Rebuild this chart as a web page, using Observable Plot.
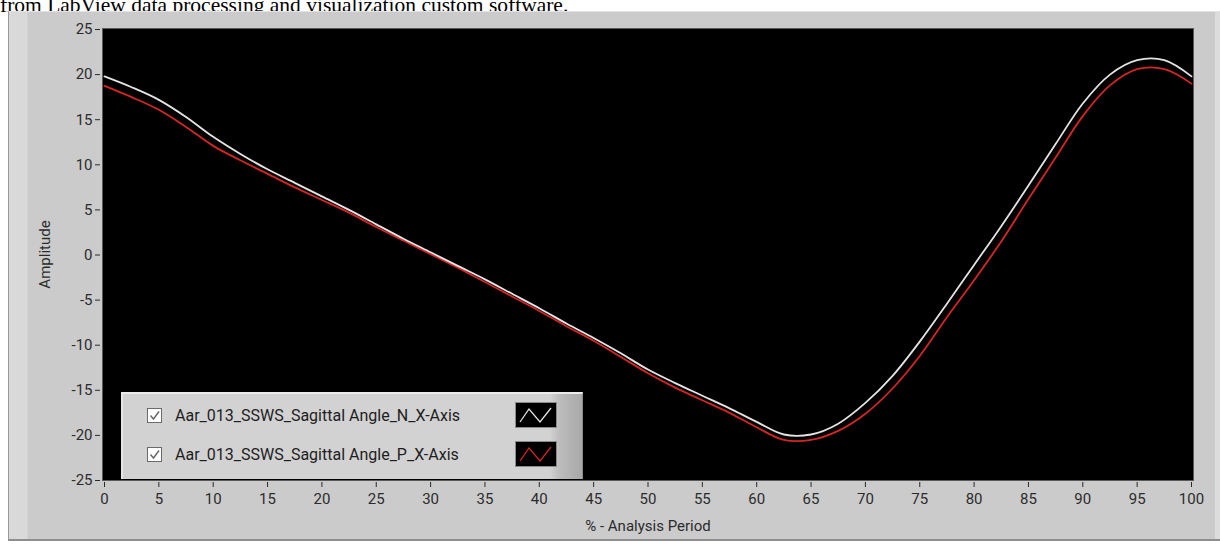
<!DOCTYPE html>
<html>
<head>
<meta charset="utf-8">
<script src="https://cdn.jsdelivr.net/npm/d3@7"></script>
<script src="https://cdn.jsdelivr.net/npm/@observablehq/plot@0.6"></script>
<style>
  html, body { margin: 0; padding: 0; background: #fff; }
  #page { position: relative; width: 1220px; height: 544px; overflow: hidden; }
  #caption { position: absolute; left: 0; top: -5px; font-family: "Liberation Serif", "Times New Roman", serif; font-size: 21.5px; line-height: 20px; color: #000; white-space: nowrap; }
  #panel { position: absolute; left: 8px; top: 11px; width: 1212px; height: 530px; background: #cbcbcb;
    box-sizing: border-box; border-top: 1px solid #e2e2e2; border-left: 1px solid #9a9a9a; border-bottom: 2px solid #8e8e8e;
    background-image: linear-gradient(to right, #d9d9d9 0px, #d9d9d9 18px, #cbcbcb 19px); }
  #panel::after { content: ""; position: absolute; right: 0; top: 0; width: 5px; height: 100%; background: #dcdcdc; }
  #chart { position: absolute; left: 0; top: 0; }
  #legend { position: absolute; left: 121px; top: 392px; width: 462px; height: 87px; box-sizing: border-box;
    background: linear-gradient(to right, #d2d2d2 0%, #d2d2d2 93%, #bdbdbd 95%, #a8a8a8 100%);
    border-top: 2px solid #ececec; border-left: 2px solid #e6e6e6; border-right: 1px solid #8a8a8a; }
  .row { position: absolute; left: 0; height: 30px; width: 100%; }
  .box { position: absolute; left: 24px; top: 6px; width: 15px; height: 15px; background: #fff; border: 1px solid #6a6a6a; box-sizing: border-box; }
  .lab { position: absolute; left: 52px; top: 0; line-height: 28px; font-family: Roboto, "Noto Sans", sans-serif; font-size: 16px; color: #1e1e1e; white-space: nowrap; }
  .sw { position: absolute; left: 392px; top: 0; width: 42px; height: 26px; background: #000; border: 1px solid #8a8a8a; box-sizing: border-box; }
</style>
</head>
<body>
<div id="page">
  <div id="caption">from LabView data processing and visualization custom software.</div>
  <div id="panel"></div>
  <div id="chart"></div>
  <div id="legend"></div>
</div>
<script>
// ---- data ----
const seriesNames = ["Aar_013_SSWS_Sagittal Angle_N_X-Axis", "Aar_013_SSWS_Sagittal Angle_P_X-Axis"];
const seriesColors = ["#e4e4e4", "#d42626"];
const xTicks = [0, 5, 10, 15, 20, 25, 30, 35, 40, 45, 50, 55, 60, 65, 70, 75, 80, 85, 90, 95, 100];
const yTicks = [-25, -20, -15, -10, -5, 0, 5, 10, 15, 20, 25];
const xLabel = "% - Analysis Period";
const yLabel = "Amplitude";
const pct = [0, 2.5, 5, 7.5, 10, 12.5, 15, 17.5, 20, 22.5, 25, 27.5, 30, 32.5, 35, 37.5, 40, 42.5, 45, 47.5,
             50, 52.5, 55, 57.5, 60, 62.5, 65, 67.5, 70, 72.5, 75, 77.5, 80, 82.5, 85, 87.5, 90, 92.5, 95, 97.5, 100];
const valuesN = [19.8, 18.6, 17.2, 15.3, 13.1, 11.2, 9.5, 8.0, 6.5, 5.0, 3.4, 1.8, 0.3, -1.2, -2.7, -4.3, -5.9, -7.6, -9.2, -10.9,
                 -12.7, -14.2, -15.6, -17.0, -18.5, -19.9, -19.9, -18.7, -16.4, -13.4, -9.6, -5.4, -1.1, 3.2, 7.7, 12.3, 16.8, 20.0, 21.6, 21.6, 19.8];
const valuesP = [18.75, 17.5, 16.1, 14.2, 12.1, 10.5, 9.0, 7.5, 6.1, 4.7, 3.1, 1.6, 0.1, -1.4, -3.0, -4.6, -6.2, -7.9, -9.5, -11.3,
                 -13.1, -14.7, -16.1, -17.5, -19.1, -20.5, -20.5, -19.5, -17.6, -14.8, -11.2, -6.9, -2.8, 1.5, 6.2, 10.8, 15.4, 18.8, 20.6, 20.6, 19.0];

const rows = [];
pct.forEach((x, i) => {
  rows.push({x, y: valuesP[i], s: seriesNames[1]});
});
pct.forEach((x, i) => {
  rows.push({x, y: valuesN[i], s: seriesNames[0]});
});

const font = "Roboto, 'Noto Sans', sans-serif";
const fmt = d => String(d);
const chart = Plot.plot({
  width: 1220,
  height: 544,
  marginLeft: 102,
  marginRight: 27,
  marginTop: 28,
  marginBottom: 64,
  style: {background: "transparent", fontFamily: font, fontSize: "15px", color: "#2b2b2b", overflow: "visible"},
  x: {domain: [0, 100], insetLeft: 2, insetRight: 2},
  y: {domain: [-25, 25], insetTop: 1},
  color: {domain: seriesNames, range: seriesColors},
  marks: [
    Plot.frame({fill: "black", stroke: "#5a5a5a"}),
    Plot.axisX({ticks: xTicks, tickFormat: fmt, tickSize: 5, dy: 2, tickPadding: 6, label: null, fontSize: 15, fontFamily: font, stroke: "#2b2b2b"}),
    Plot.axisY({ticks: yTicks, tickFormat: fmt, tickSize: 5, dx: -2, tickPadding: 3, label: null, fontSize: 15, fontFamily: font, stroke: "#2b2b2b"}),
    Plot.text([xLabel], {frameAnchor: "bottom", dy: 46, text: d => d, textAnchor: "middle", lineAnchor: "middle", fontSize: 15, fontFamily: font, fill: "#2b2b2b"}),
    Plot.text([yLabel], {frameAnchor: "left", dx: -57, text: d => d, rotate: -90, textAnchor: "middle", lineAnchor: "middle", fontSize: 15, fontFamily: font, fill: "#2b2b2b"}),
    Plot.line(rows, {x: "x", y: "y", z: "s", stroke: "s", strokeWidth: 1.8, curve: "catmull-rom"})
  ]
});
document.getElementById("chart").appendChild(chart);

// legend (HTML)
const legend = document.getElementById("legend");
seriesNames.forEach((name, i) => {
  const row = document.createElement("div");
  row.className = "row";
  row.style.top = (i === 0 ? 8 : 47) + "px";
  row.innerHTML = `<div class="box"><svg width="13" height="13" style="position:absolute;left:0;top:0"><path d="M2.5 6.5 L5.5 10 L11 2.5" fill="none" stroke="#666" stroke-width="1.4"/></svg></div>
    <div class="lab"></div>
    <div class="sw"><svg width="40" height="24" style="position:absolute;left:0;top:0"><path d="M4 19 L13 6 L24 19 L35 5" fill="none" stroke="${seriesColors[i]}" stroke-width="1.3"/></svg></div>`;
  row.querySelector(".lab").textContent = name;
  legend.appendChild(row);
});
</script>
</body>
</html>
